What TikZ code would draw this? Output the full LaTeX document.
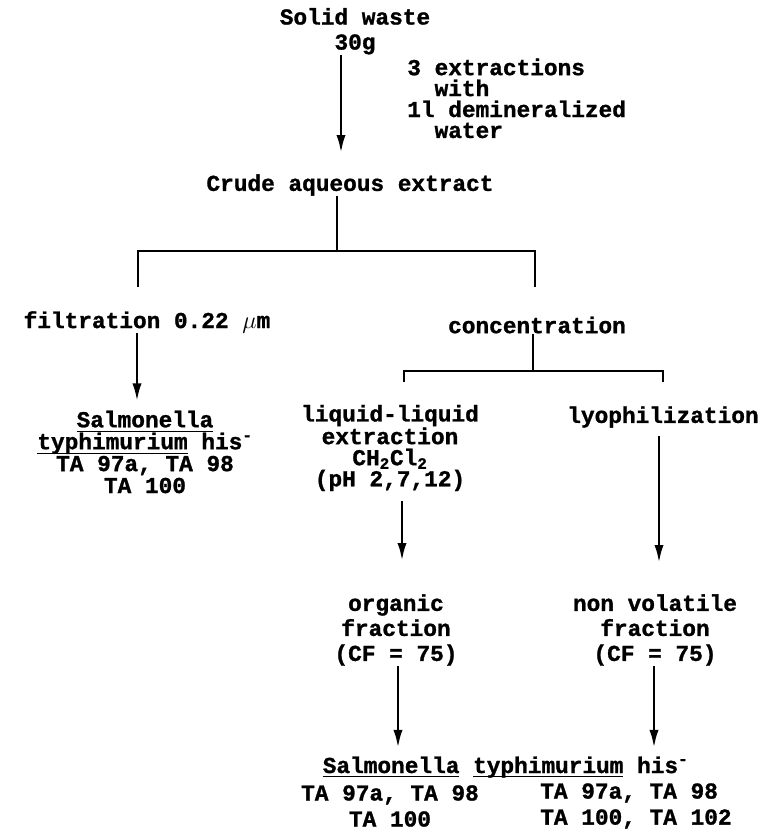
\documentclass[tikz,border=0pt]{standalone}
\usepackage{fontspec}
\setmainfont{Liberation Mono}[BoldFeatures={FakeBold=1.2}]
\usetikzlibrary{arrows.meta}
\newcommand{\ulin}[1]{\underline{\raisebox{0pt}[\height][1.2pt]{#1}}}

\begin{document}
\begin{tikzpicture}[
  txt/.style={align=center, inner sep=0pt, font=\fontsize{16.2}{15.6}\selectfont\bfseries},
  flow/.style={-{Latex[length=13pt, width=6.5pt]}, line width=2pt},
  branch/.style={line width=2pt}
]
  \useasboundingbox (0,0) rectangle (19.325,-20.775);

  % Steps
  \node[txt, font=\fontsize{16.2}{17.8}\selectfont\bfseries] (waste) at (8.875,-0.78) {Solid waste\\30g};
  \node[txt, anchor=west, align=left, font=\fontsize{16.2}{14.9}\selectfont\bfseries] (extr) at (10.175,-2.46) {3 extractions\\\phantom{12}with\\1l demineralized\\\phantom{12}water};
  \node[txt] (crude) at (8.75,-4.625) {Crude aqueous extract};
  \node[txt] (filt) at (3.675,-8.05) {filtration 0.22 $\mu$m};
  \node[txt] (conc) at (13.425,-8.125) {concentration};
  \node[txt] (salm) at (3.625,-11.3) {\ulin{Salmonella}\\\ulin{typhimurium} his\textsuperscript{-}\\TA 97a, TA 98\\TA 100};
  \node[txt, font=\fontsize{16.2}{15}\selectfont\bfseries] (lle) at (9.75,-11.2) {liquid-liquid\\extraction\\CH\textsubscript{2}Cl\textsubscript{2}\\(pH 2,7,12)};
  \node[txt] (lyo) at (16.575,-10.425) {lyophilization};
  \node[txt, font=\fontsize{16.2}{17.8}\selectfont\bfseries] (org) at (9.9,-15.75) {organic\\fraction\\(CF = 75)};
  \node[txt, font=\fontsize{16.2}{17.8}\selectfont\bfseries] (nonvol) at (16.375,-15.75) {non volatile\\fraction\\(CF = 75)};
  \node[txt] (res) at (12.64,-19.175) {\ulin{Salmonella} \ulin{typhimurium} his\textsuperscript{-}};
  \node[txt, font=\fontsize{16.2}{18.5}\selectfont\bfseries] (resl) at (9.75,-20.15) {TA 97a, TA 98\\TA 100};
  \node[txt, anchor=west, align=left, font=\fontsize{16.2}{18.5}\selectfont\bfseries] (resr) at (13.5,-20.15) {TA 97a, TA 98\\TA 100, TA 102};

  % Branch points
  \coordinate (split1) at (8.425,-6.275);
  \coordinate (b1l) at (3.45,-7.175);
  \coordinate (b1r) at (13.375,-7.175);
  \coordinate (split2) at (13.325,-9.275);
  \coordinate (b2l) at (10.1,-9.55);
  \coordinate (b2r) at (16.575,-9.55);

  % Connectors
  \draw[flow, shorten >=0.52cm] ([xshift=-0.35cm]waste.south) -- ([xshift=-0.35cm]waste.south |- crude.north);
  \draw[branch] (crude.south -| split1) -- (split1);
  \draw[branch] (b1l) -- (b1l |- split1) -- (b1r |- split1) -- (b1r);
  \draw[flow, shorten >=0.22cm] ([xshift=-0.25cm]filt.south) -- ([xshift=-0.25cm]filt.south |- salm.north);
  \draw[branch] (conc.south -| split2) -- (split2);
  \draw[branch] (b2l) -- (b2l |- split2) -- (b2r |- split2) -- (b2r);
  \draw[flow, shorten <=0.25cm, shorten >=0.82cm] ([xshift=0.3cm]lle.south) -- ([xshift=0.3cm]lle.south |- org.north);
  \draw[flow, shorten <=0.2cm, shorten >=0.77cm] ([xshift=-0.1cm]lyo.south) -- ([xshift=-0.1cm]lyo.south |- nonvol.north);
  \draw[flow, shorten >=0.2cm] ([xshift=0.05cm]org.south) -- ([xshift=0.05cm]org.south |- res.north);
  \draw[flow, shorten >=0.2cm] ([xshift=-0.025cm]nonvol.south) -- ([xshift=-0.025cm]nonvol.south |- res.north);

\end{tikzpicture}
\end{document}
